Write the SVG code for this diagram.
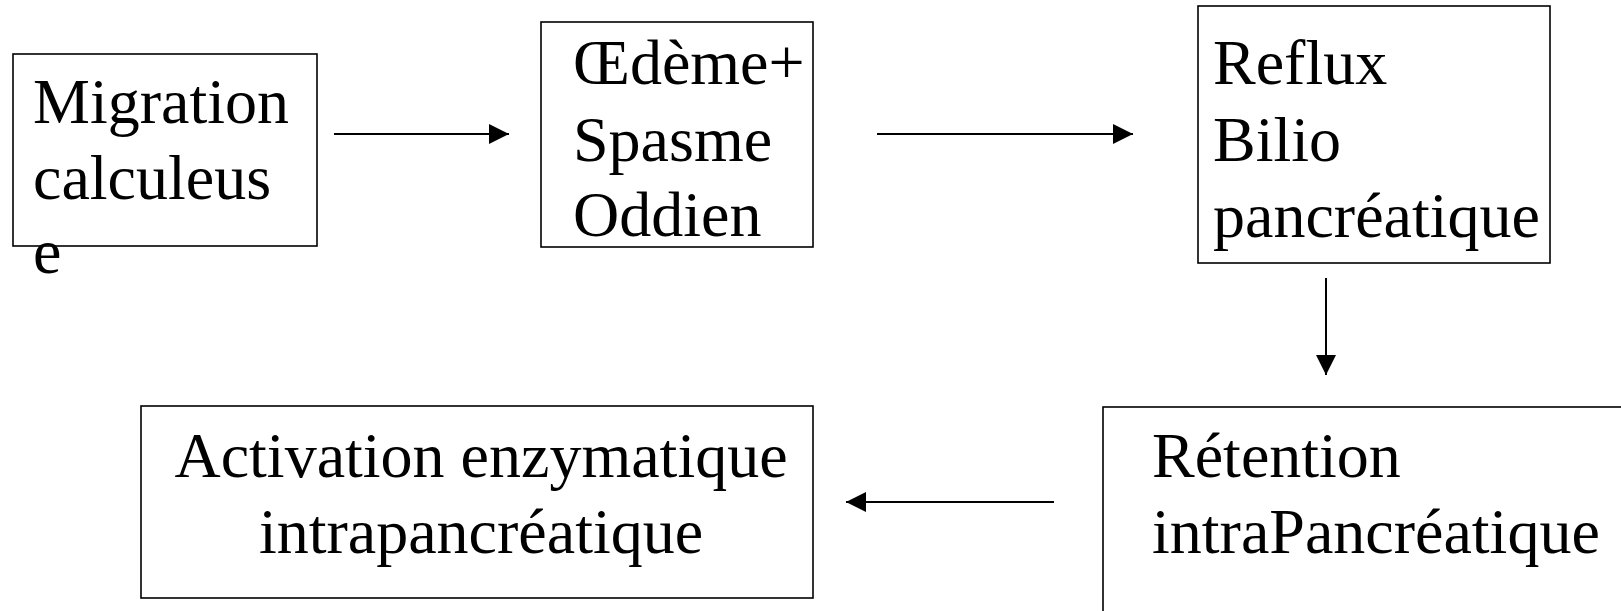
<svg xmlns="http://www.w3.org/2000/svg" width="1621" height="611" viewBox="0 0 1621 611">
  <style>
    .box { fill: #fff; stroke: #000; stroke-width: 1.6; }
    .lbl { font-family: "Liberation Serif", "Times New Roman", serif; font-size: 64px; fill: #000; }
    .conn { stroke: #000; stroke-width: 2; fill: none; }
  </style>
  <defs>
    <marker id="arrow" markerUnits="userSpaceOnUse" markerWidth="21" markerHeight="21" refX="20" refY="10" orient="auto">
      <path d="M0,0 L20,10 L0,20 Z" fill="#000"/>
    </marker>
  </defs>
  <rect width="1621" height="611" fill="#fff"/>

  <g id="node-migration">
    <rect class="box" x="13" y="54" width="304" height="192"/>
    <text class="lbl" x="33" y="123">Migration</text>
    <text class="lbl" x="33" y="199">calculeus</text>
    <text class="lbl" x="33" y="273">e</text>
  </g>

  <g id="node-oedeme">
    <rect class="box" x="541" y="22" width="272" height="225"/>
    <text class="lbl" x="573" y="84">Œdème+</text>
    <text class="lbl" x="573" y="161">Spasme</text>
    <text class="lbl" x="573" y="236">Oddien</text>
  </g>

  <g id="node-reflux">
    <rect class="box" x="1198" y="6" width="352" height="257"/>
    <text class="lbl" x="1213" y="84">Reflux</text>
    <text class="lbl" x="1213" y="161">Bilio</text>
    <text class="lbl" x="1213" y="237">pancréatique</text>
  </g>

  <g id="node-retention">
    <rect class="box" x="1103" y="407" width="600" height="300"/>
    <text class="lbl" x="1152" y="477">Rétention</text>
    <text class="lbl" x="1152" y="553">intraPancréatique</text>
  </g>

  <g id="node-activation">
    <rect class="box" x="141" y="406" width="672" height="192"/>
    <text class="lbl" x="481" y="477" text-anchor="middle">Activation enzymatique</text>
    <text class="lbl" x="481" y="553" text-anchor="middle">intrapancréatique</text>
  </g>

  <g id="connectors">
    <line class="conn" x1="334" y1="134" x2="509" y2="134" marker-end="url(#arrow)"/>
    <line class="conn" x1="877" y1="134" x2="1133" y2="134" marker-end="url(#arrow)"/>
    <line class="conn" x1="1326" y1="278" x2="1326" y2="375" marker-end="url(#arrow)"/>
    <line class="conn" x1="1054" y1="502" x2="846" y2="502" marker-end="url(#arrow)"/>
  </g>
</svg>
